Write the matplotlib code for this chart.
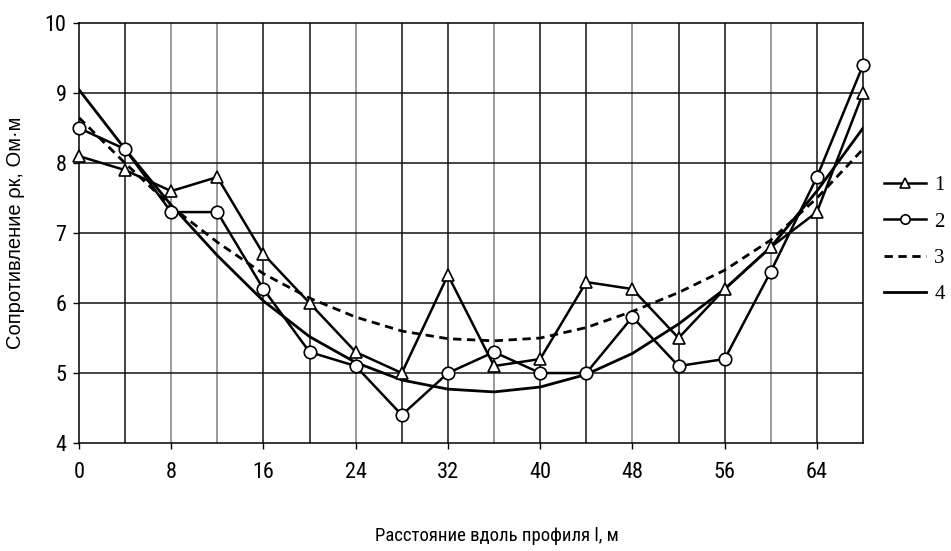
import numpy as np
import matplotlib
matplotlib.use("Agg")
import matplotlib.pyplot as plt

# profile distance, m
dist = [0, 4, 8, 12, 16, 20, 24, 28, 32, 36, 40, 44, 48, 52, 56, 60, 64, 68]

# measured apparent resistivity, two runs
rho_1 = [8.1, 7.9, 7.6, 7.8, 6.7, 6.0, 5.3, 5.0, 6.4, 5.1, 5.2, 6.3, 6.2, 5.5, 6.2, 6.8, 7.3, 9.0]
rho_2 = [8.5, 8.2, 7.3, 7.3, 6.2, 5.3, 5.1, 4.4, 5.0, 5.3, 5.0, 5.0, 5.8, 5.1, 5.2, 6.45, 7.8, 9.4]

# smoothed trend curves
rho_3 = [8.65, 8.0, 7.38, 6.87, 6.42, 6.07, 5.8, 5.6, 5.49, 5.46, 5.5, 5.65, 5.88, 6.15, 6.47, 6.9, 7.5, 8.2]
rho_4 = [9.05, 8.2, 7.4, 6.68, 6.03, 5.52, 5.15, 4.9, 4.77, 4.73, 4.8, 4.98, 5.28, 5.7, 6.2, 6.8, 7.6, 8.5]

series_names = ["1", "2", "3", "4"]

narrow = ["Roboto Condensed", "PT Sans Narrow", "DejaVu Sans"]

fig = plt.figure(figsize=(9.51, 5.51), dpi=100)
ax = fig.add_axes([0.083, 0.196, 0.8245, 0.762])

ax.plot(dist, rho_1, color="black", lw=1.8, marker="^", ms=9, clip_on=False,
        mfc="white", mec="black", mew=1.2, label=series_names[0], zorder=5)
ax.plot(dist, rho_2, color="black", lw=1.8, marker="o", ms=9, clip_on=False,
        mfc="white", mec="black", mew=1.2, label=series_names[1], zorder=5)
ax.plot(dist, rho_3, color="black", lw=2.0, ls=(0, (3, 2)), label=series_names[2], zorder=4)
ax.plot(dist, rho_4, color="black", lw=2.0, label=series_names[3], zorder=4)

ax.set_xlim(0, 68)
ax.set_ylim(4, 10)

# vertical grid every 4 m, some lines lighter
for xv in range(4, 68, 4):
    light = xv % 12 == 0 or xv == 8
    ax.axvline(xv, color="#808080" if light else "#111111", lw=1.1, zorder=1)
for yv in range(5, 10):
    ax.axhline(yv, color="#111111", lw=1.1, zorder=1)

ax.set_xticks(range(0, 65, 8))
ax.set_yticks(range(4, 11))
ax.tick_params(axis="both", direction="out", length=4, width=1, color="black")
for lab in ax.get_xticklabels() + ax.get_yticklabels():
    lab.set_fontfamily(narrow)
    lab.set_fontsize(16)
ax.tick_params(axis="x", pad=10)
ax.tick_params(axis="y", pad=5)

for s in ax.spines.values():
    s.set_linewidth(1.1)
    s.set_color("black")

ax.set_ylabel("Сопротивление ρк, Ом·м", fontsize=14.5, fontfamily="Liberation Sans", labelpad=14)
ax.set_xlabel("Расстояние вдоль профиля l, м", fontsize=13.5, fontfamily=narrow)
ax.xaxis.set_label_coords(0.533, -0.2)

fig.legend(loc="upper left", bbox_to_anchor=(0.93, 0.681), bbox_transform=fig.transFigure,
           frameon=False, prop={"family": "Liberation Serif", "size": 15},
           handlelength=2.0, handletextpad=0.4, labelspacing=0.8,
           borderpad=0, borderaxespad=0, markerscale=0.75)

fig.savefig("out.png", dpi=100)
